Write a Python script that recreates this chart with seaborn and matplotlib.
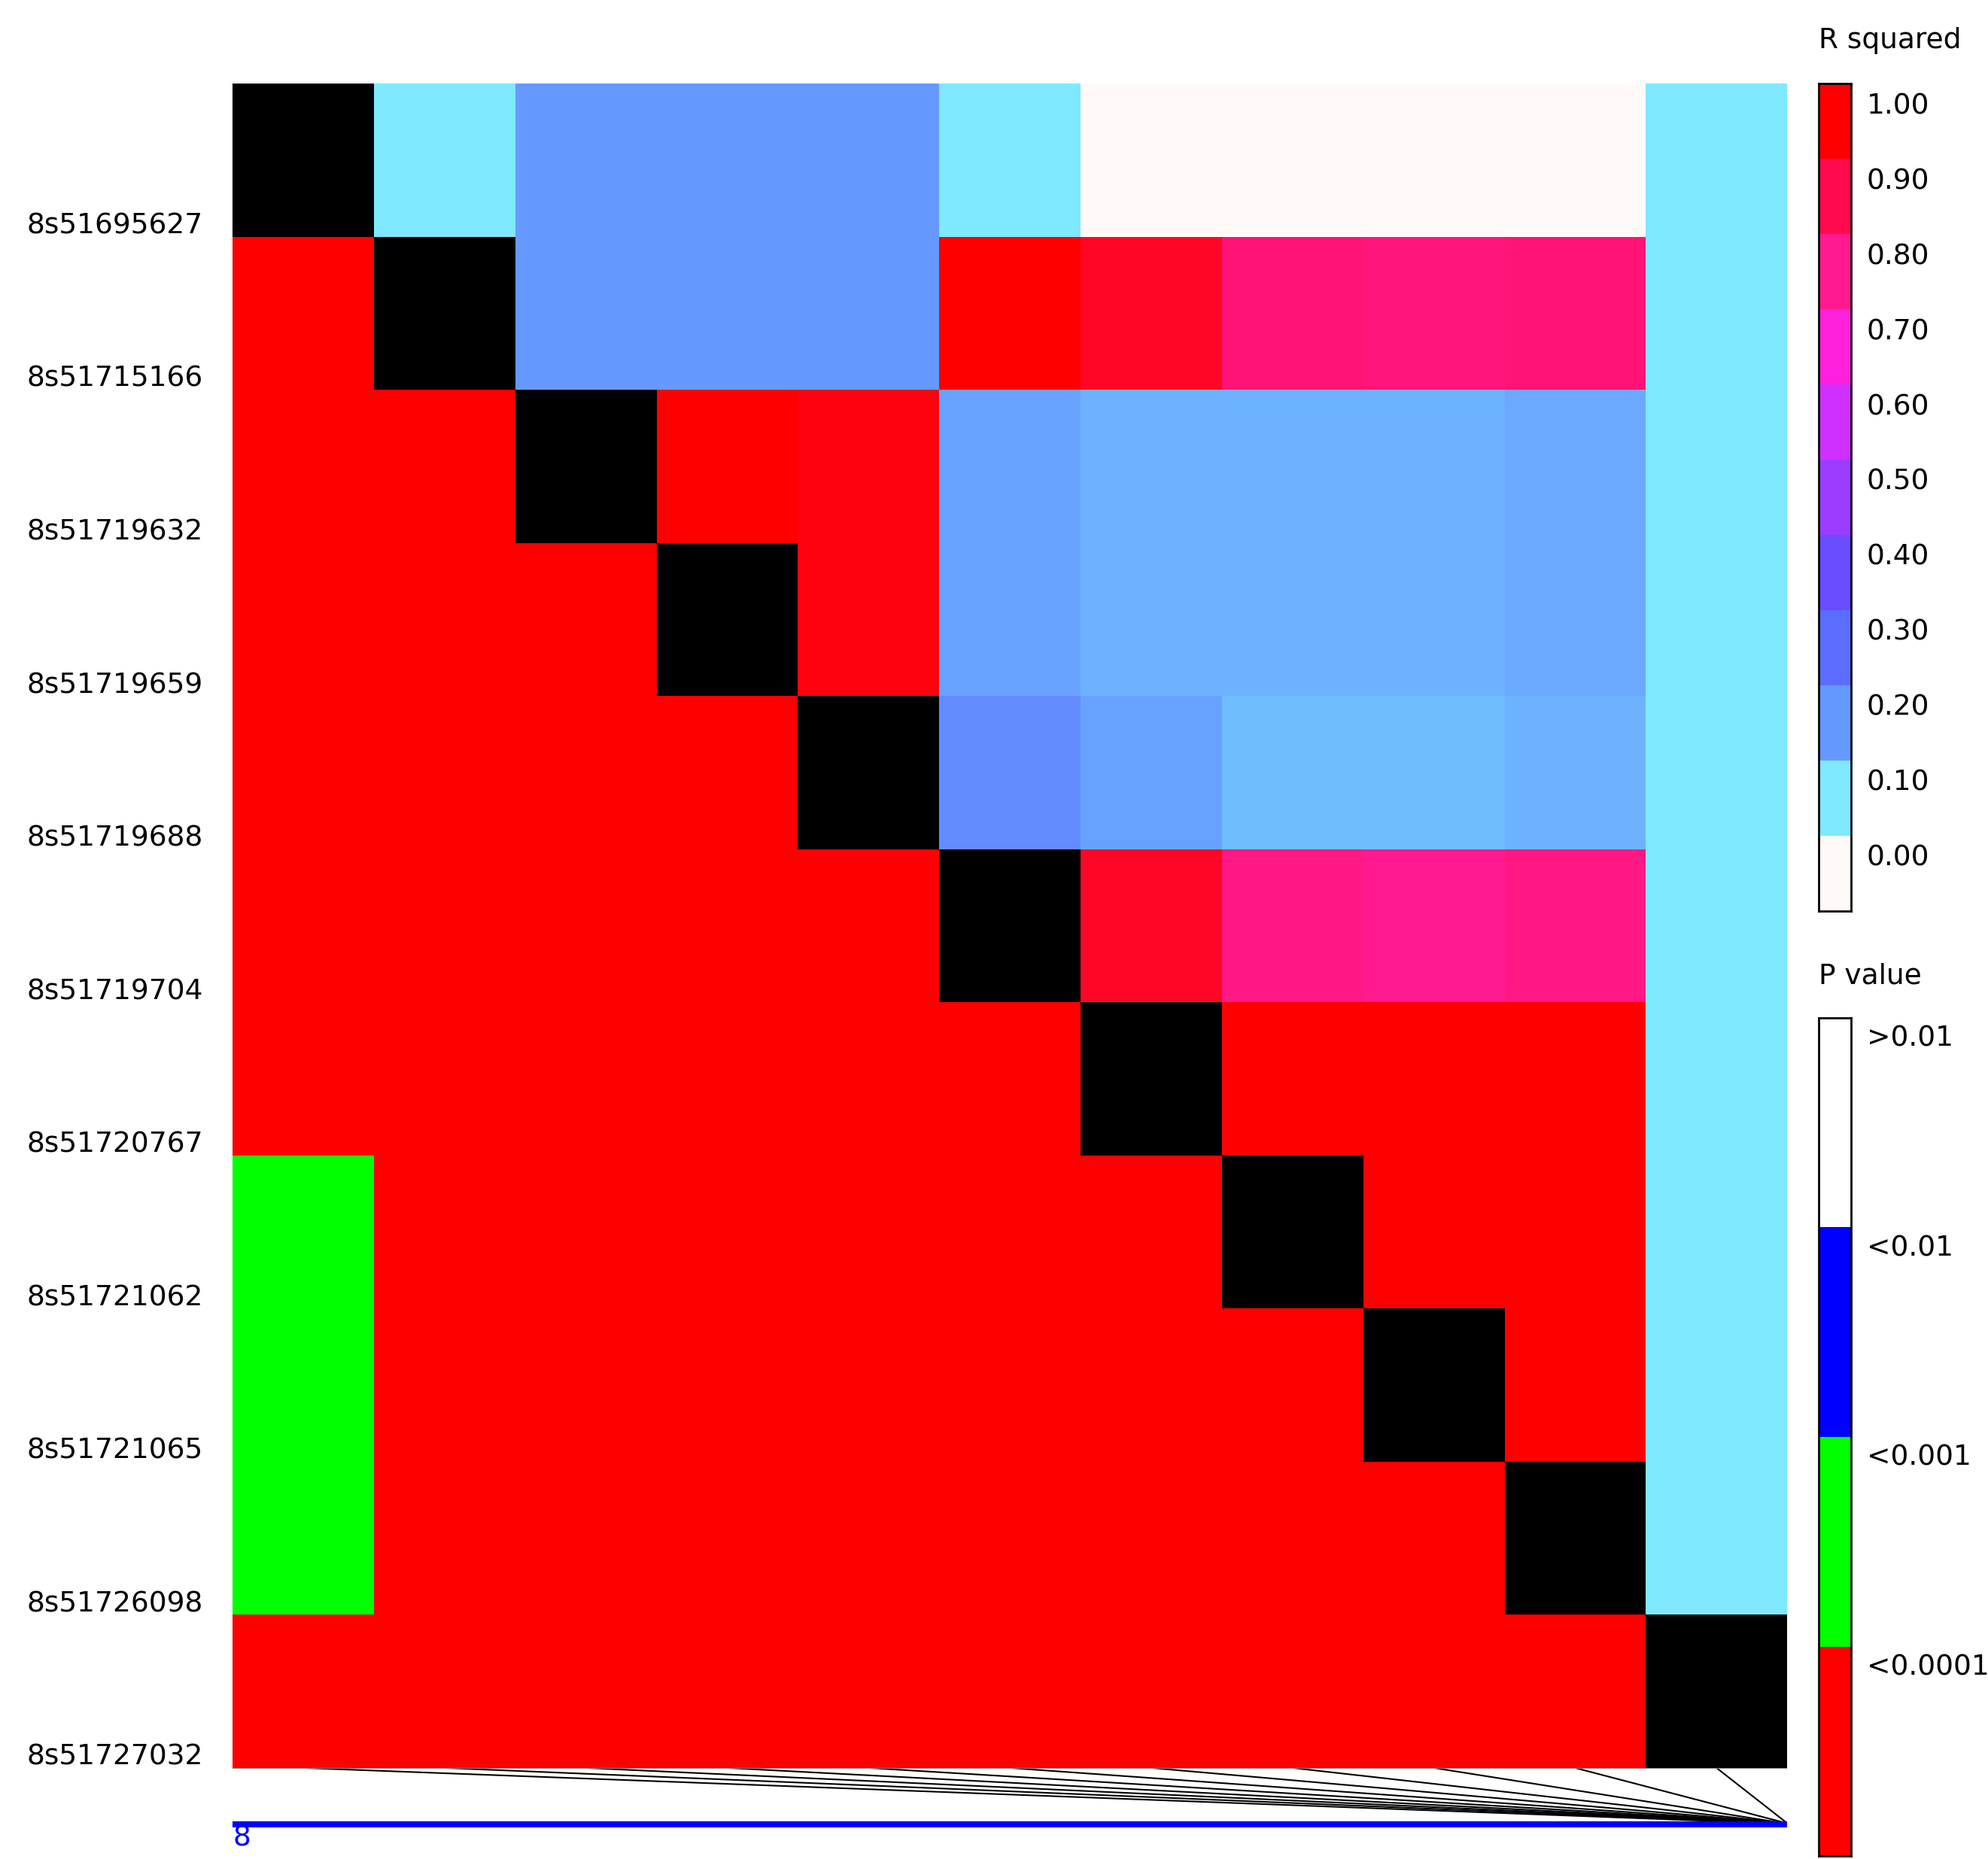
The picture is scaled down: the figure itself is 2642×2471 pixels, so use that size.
import numpy as np
import matplotlib
matplotlib.use("Agg")
import matplotlib.pyplot as plt
import seaborn as sns
from matplotlib.colors import LinearSegmentedColormap, ListedColormap

snps = ["8s51695627","8s51715166","8s51719632","8s51719659","8s51719688","8s51719704",
        "8s51720767","8s51721062","8s51721065","8s51726098","8s51727032"]
positions = [51695627,51715166,51719632,51719659,51719688,51719704,51720767,51721062,51721065,51726098,51727032]

# upper triangle R squared (row i, col j>i)
r2_upper = {
 0: [0.10,0.20,0.20,0.20,0.10,0.00,0.00,0.00,0.00,0.10],
 1: [0.20,0.20,0.20,1.00,0.95,0.84,0.83,0.84,0.10],
 2: [1.00,0.98,0.19,0.17,0.17,0.17,0.18,0.10],
 3: [0.98,0.19,0.17,0.17,0.17,0.18,0.10],
 4: [0.23,0.19,0.16,0.16,0.17,0.10],
 5: [0.95,0.82,0.80,0.82,0.10],
 6: [1.00,1.00,1.00,0.10],
 7: [1.00,1.00,0.10],
 8: [1.00,0.10],
 9: [0.10],
}
p_green = [(7,0),(8,0),(9,0)]

n = len(snps)
r2 = np.full((n, n), np.nan)
pv = np.full((n, n), np.nan)
for i, vals in r2_upper.items():
    for k, v in enumerate(vals):
        r2[i, i + 1 + k] = v
for i in range(n):
    for j in range(i):
        pv[i, j] = 0
for (i, j) in p_green:
    pv[i, j] = 1
diag = np.where(np.eye(n) == 1, 1.0, np.nan)

r2_colors = ["#fffaf8", "#7be9ff", "#6699ff", "#5a6cff", "#6a4cff", "#9a3cff",
             "#d030ff", "#ff20e0", "#ff1a90", "#ff0a50", "#ff0000"]
r2_cmap = LinearSegmentedColormap.from_list("r2", list(zip(np.linspace(0, 1, 11), r2_colors)))
p_colors = ["#ff0000", "#00ff00", "#0000ff", "#ffffff"]
p_cmap = ListedColormap(p_colors)

FS = 27
W, H = 2642, 2471
fig = plt.figure(figsize=(W / 100, H / 100), dpi=100)
ax = fig.add_axes([0.117, 0.049, 0.782, 0.906])
sns.heatmap(r2, ax=ax, cmap=r2_cmap, vmin=0, vmax=1, cbar=False)
sns.heatmap(pv, ax=ax, cmap=p_cmap, vmin=-0.5, vmax=3.5, cbar=False)
sns.heatmap(diag, ax=ax, cmap=ListedColormap(["#000000"]), cbar=False)
ax.set_xticks([])
ax.set_yticks(np.arange(n) + 0.93)
ax.set_yticklabels(snps, rotation=0, fontsize=FS)
ax.tick_params(axis="y", length=0, pad=28)

# fan axis
fax = fig.add_axes([0.117, 0.017, 0.782, 0.032])
fax.set_xlim(0, 1); fax.set_ylim(0, 1); fax.axis("off")
pmin, pmax = min(positions), max(positions)
for i, p in enumerate(positions):
    x_top = (i + 0.5) / n
    x_bot = 0.99 + 0.01 * (p - pmin) / (pmax - pmin)
    fax.plot([x_top, x_bot], [1, 0.07], color="black", lw=1.5)
fax.plot([0, 1], [1, 1], color="#888888", lw=1.5)
fax.plot([0, 1], [0.05, 0.05], color="#0000ff", lw=6)
fig.text(0.117, 0.004, "8", color="#0000ff", fontsize=FS, ha="left", va="bottom")

# R squared legend
rax = fig.add_axes([0.915, 0.51, 0.016, 0.445])
seg = np.linspace(1, 0, 11).reshape(-1, 1)
sns.heatmap(seg, ax=rax, cmap=r2_cmap, vmin=0, vmax=1, cbar=False,
            xticklabels=False, yticklabels=False)
for s in rax.spines.values():
    s.set_visible(True); s.set_linewidth(2)
for k in range(11):
    rax.text(1.5, k + 0.3, f"{1 - k * 0.1:.2f}", fontsize=FS, va="center", ha="left")
fig.text(0.915, 0.978, "R squared", fontsize=FS, ha="left", va="center")

# P value legend
pax = fig.add_axes([0.915, 0.0015, 0.016, 0.451])
pseg = np.array([3, 2, 1, 0]).reshape(-1, 1)
sns.heatmap(pseg, ax=pax, cmap=p_cmap, vmin=-0.5, vmax=3.5, cbar=False,
            xticklabels=False, yticklabels=False)
for s in pax.spines.values():
    s.set_visible(True); s.set_linewidth(2)
for k, lab in enumerate([">0.01", "<0.01", "<0.001", "<0.0001"]):
    pax.text(1.5, k + 0.1, lab, fontsize=FS, va="center", ha="left", clip_on=False)
fig.text(0.915, 0.475, "P value", fontsize=FS, ha="left", va="center")

fig.savefig("out.png", dpi=100)
